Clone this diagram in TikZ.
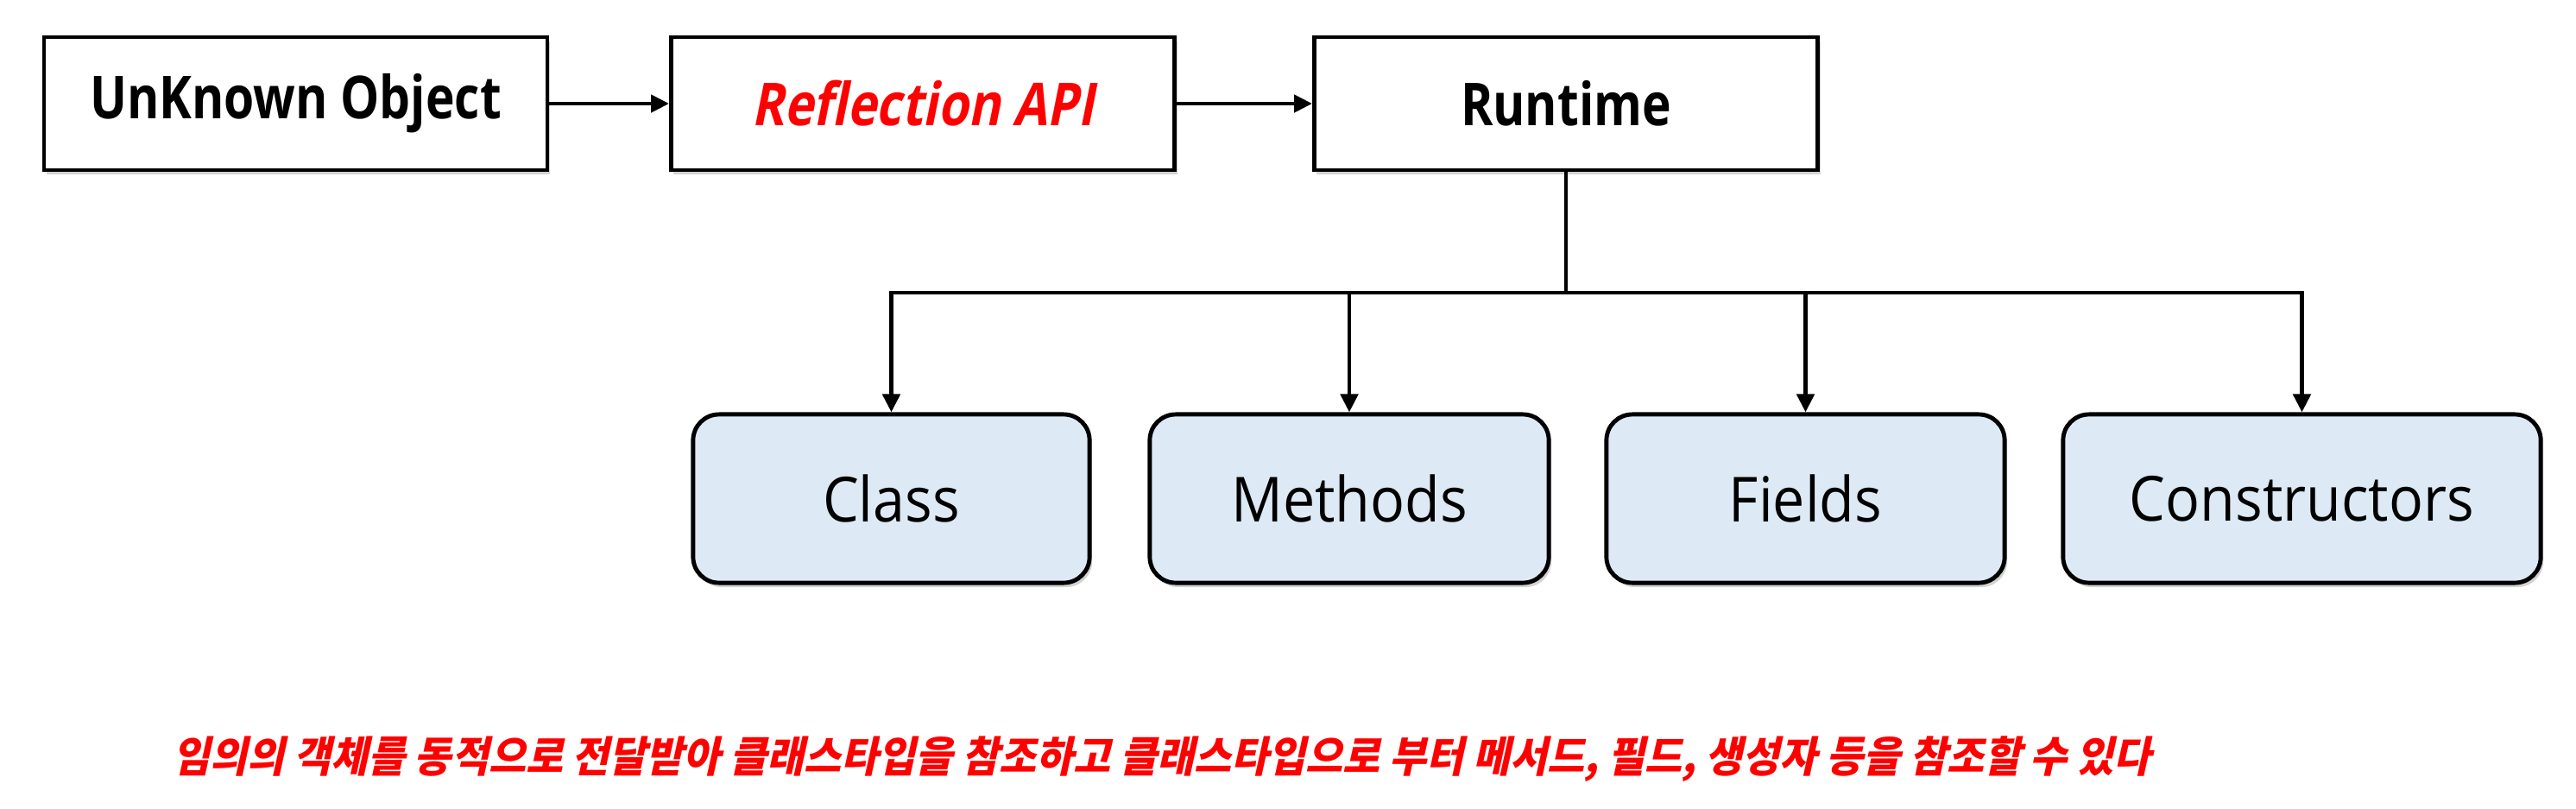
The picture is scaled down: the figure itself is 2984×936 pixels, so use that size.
\documentclass[tikz,border=0pt]{standalone}
\usepackage{fontspec}
\setmainfont{Open Sans}
\newfontfamily\headfont[FakeStretch=0.83]{Open Sans}
\newfontfamily\apifont[FakeSlant=0.2,FakeStretch=0.83]{Open Sans}
\newfontfamily\partfont[FakeStretch=0.92]{Open Sans}
\newfontfamily\krfont[FakeSlant=0.22,FakeStretch=0.95]{Noto Sans CJK KR}
\usepackage{xcolor}
\usetikzlibrary{arrows.meta,shadows}
\definecolor{partfill}{HTML}{DDEAF6}
\definecolor{notered}{HTML}{FF0000}

\begin{document}
\begin{tikzpicture}[x=0.01cm,y=-0.01cm,
		topbox/.style={draw,line width=1.3pt,fill=white,minimum width=5.83cm,minimum height=1.54cm,inner sep=0pt,
			drop shadow={shadow xshift=0.03cm,shadow yshift=-0.05cm,opacity=0.35},font=\headfont\fontsize{19.5}{22}\selectfont\bfseries},
		partbox/.style={draw,line width=1.4pt,fill=partfill,rounded corners=0.3cm,minimum height=1.95cm,inner sep=0pt,
			drop shadow={shadow xshift=0.03cm,shadow yshift=-0.05cm,opacity=0.35},font=\partfont\fontsize{20.5}{24}\selectfont},
		wire/.style={line width=1.35pt},
		flow/.style={wire,-{Triangle[length=0.21cm,width=0.2cm]}}]
	\useasboundingbox (0,0) rectangle (2984,936);
	% top row
	\node[topbox] (obj) at (342.5,120) {UnKnown Object};
	\node[topbox,text=notered] (api) at (1069,120) {\apifont\bfseries Reflection API};
	\node[topbox] (rt) at (1814,120) {Runtime};
	\draw[flow] (obj) -- (api);
	\draw[flow] (api) -- (rt);
	% what runtime hands out
	\node[partbox,minimum width=4.59cm] (cls) at (1032.5,577.5) {Class};
	\node[partbox,minimum width=4.62cm] (mth) at (1563,577.5) {Methods};
	\node[partbox,minimum width=4.61cm] (fld) at (2091.5,577.5) {Fields};
	\node[partbox,minimum width=5.53cm] (ctor) at (2666.5,577.5) {Constructors};
	\coordinate (hub) at (1814,339);
	\draw[wire] (rt) -- (hub);
	\draw[wire,line cap=rect] (cls |- hub) -- (ctor |- hub);
	\foreach \p in {cls,mth,fld,ctor}
		\draw[flow] (\p |- hub) -- (\p);
	% note
	\node[text=notered,inner sep=0pt] (note) at (1346,879)
		{\krfont\bfseries\fontsize{14}{16}\selectfont 임의의 객체를 동적으로 전달받아 클래스타입을 참조하고 클래스타입으로 부터 메서드, 필드, 생성자 등을 참조할 수 있다};
\end{tikzpicture}
\end{document}
